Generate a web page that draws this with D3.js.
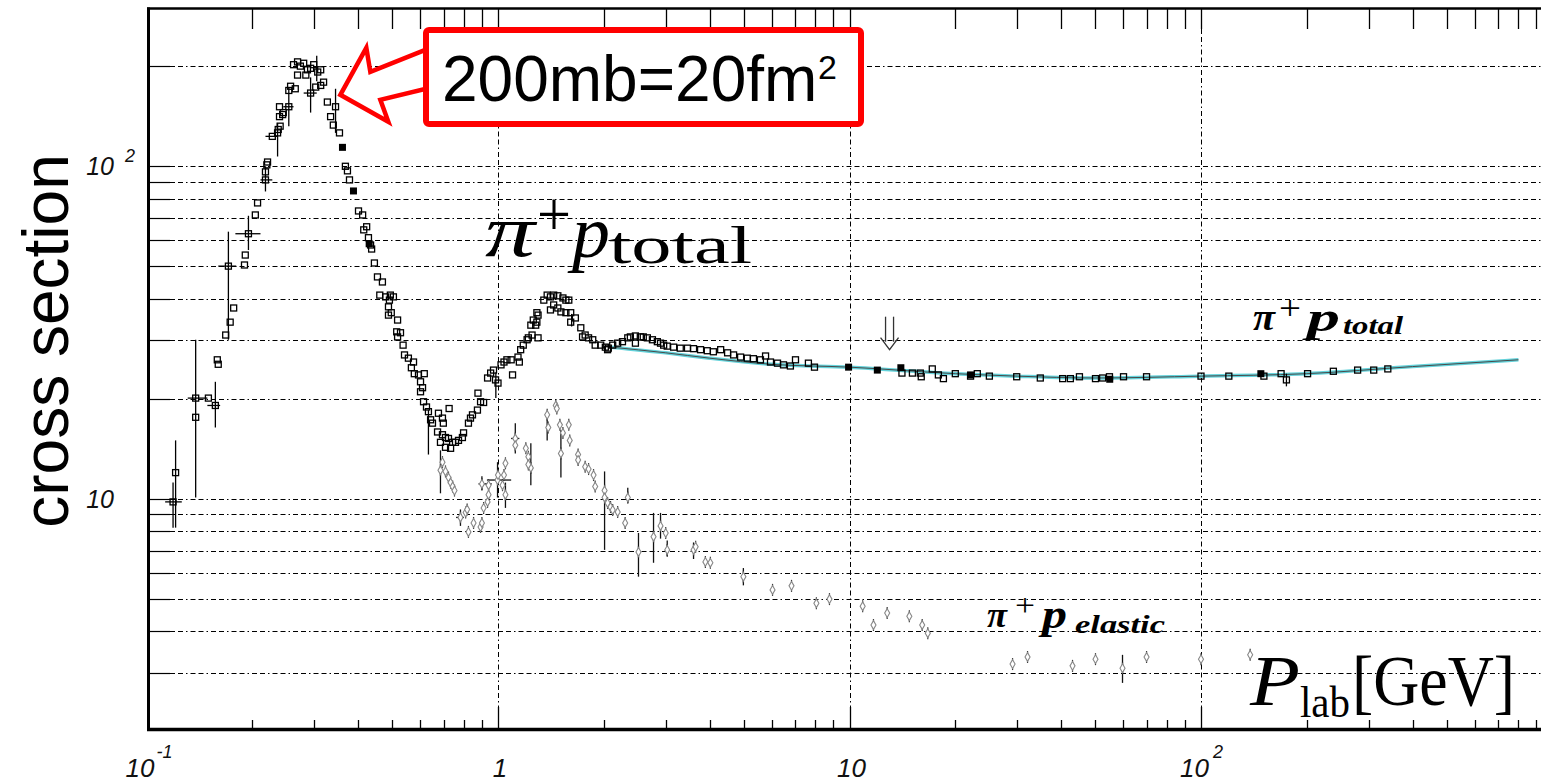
<!DOCTYPE html>
<html lang="en">
<head>
<meta charset="UTF-8">
<title>pi+ p cross section</title>
<script src="https://d3js.org/d3.v7.min.js"></script>
<style>
    body { margin: 0; background: #fff; overflow: hidden; }
    svg { display: block; }
    .tl { font-family: "Liberation Sans", Arial, sans-serif; font-style: italic; fill: #111; }
    .tex { font-family: "Liberation Serif", "DejaVu Serif", serif; fill: #000; }
</style>
</head>
<body>
<svg width="1541" height="782"></svg>
<script>
    // pi+ p total cross section [p (GeV), sigma (mb)]
    const totalPoints = [
        [0.119,9.8],[0.121,12.0],[0.138,20.1],[0.138,17.6],[0.150,20.1],[0.157,19.1],[0.159,26.2],[0.160,25.4],
        [0.168,31.1],[0.171,50.1],[0.173,34.0],[0.177,37.5],[0.190,50.5],[0.191,54.1],[0.195,62.7],[0.204,71.4],
        [0.207,77.6],[0.218,91],[0.218,96.2],[0.220,101],[0.221,103],[0.228,123],[0.236,126],[0.237,129],
        [0.240,132],[0.239,141],[0.244,143],[0.245,145],[0.239,151],[0.254,151],[0.254,169],[0.257,174],
        [0.265,171],[0.262,202],[0.269,206],[0.274,200],[0.280,204],[0.287,195],[0.293,197],[0.299,202],
        [0.307,192],[0.313,195],[0.269,188],[0.284,188],[0.293,166],[0.303,173],[0.313,175],[0.319,179],
        [0.327,156],[0.345,151],[0.334,141],[0.340,133],[0.354,126],[0.368,100],[0.373,96.9],[0.378,91],
        [0.401,73.4],[0.412,71.4],[0.415,64.4],[0.423,65.8],[0.428,61],[0.434,58],[0.437,56.4],[0.445,51.2],
        [0.454,46.5],[0.469,44.9],[0.461,41],[0.479,40.5],[0.494,41],[0.504,40.5],[0.491,39.6],[0.488,37.8],
        [0.488,35.7],[0.497,36.3],[0.518,34.5],[0.515,31.8],[0.528,31.6],[0.518,30.7],[0.537,29],[0.542,27.1],
        [0.556,26.5],[0.575,25.8],[0.567,24.8],[0.578,23.8],[0.594,23.6],[0.617,23.8],[0.602,22.5],[0.61,21.6],
        [0.602,21.0],[0.614,19.6],[0.626,18.9],[0.634,18.3],[0.643,17.3],[0.651,16.9],[0.677,18.1],[0.695,17.5],
        [0.699,16.9],[0.726,18.7],[0.673,15.9],[0.695,15.6],[0.709,15.3],[0.723,15.2],[0.743,14.8],[0.757,14.8],
        [0.772,15.0],[0.792,15.3],[0.686,14.8],[0.709,14.3],[0.733,14.2],[0.798,15.8],[0.824,16.9],[0.835,17.5],
        [0.846,17.9],[0.874,18.5],[0.892,19.6],[0.91,19.5],[0.877,20.8],[0.934,23.1],[0.953,23.9],[0.971,24.4],
        [0.984,22.8],[1.0,22.3],[1.02,25.3],[1.04,25.8],[1.06,26.2],[1.09,26.2],[1.10,23.6],[1.14,26.7],
        [1.15,25.8],[1.16,28.1],[1.18,29],[1.21,30.1],[1.22,30.5],[1.25,31.1],[1.28,33.3],[1.29,34],
        [1.30,35.7],[1.30,30.5],[1.29,36.3],[1.26,34.5],[1.24,33.3],[1.35,39.6],[1.38,41],[1.41,40.5],
        [1.44,41],[1.48,40.8],[1.53,40.2],[1.56,39.6],[1.59,39.6],[1.44,38.3],[1.41,37],[1.48,37.5],
        [1.51,36.5],[1.56,36.3],[1.61,36.3],[1.66,35],[1.61,34],[1.72,32.7],[1.74,30.7],[1.77,31.1],
        [1.81,30.5],[1.86,30.1],[1.89,29],[1.96,29],[2.02,28.6],[2.06,28.4],[2.05,28.1],[2.12,29],
        [2.19,29.4],[2.26,29.7],[2.34,30.5],[2.38,30.7],[2.46,30.9],[2.54,30.7],[2.59,30.7],[2.46,29.4],
        [2.66,30.5],[2.75,30.1],[2.84,29.7],[2.90,29.4],[2.96,29],[3.03,28.8],[3.16,28.6],[3.30,28.4],
        [3.46,28.4],[3.60,28.3],[3.77,28.1],[3.94,27.9],[4.10,27.7],[4.30,28.1],[4.50,27.5],[4.68,27.1],
        [4.90,26.7],[5.12,26.5],[5.33,26.4],[5.58,26.2],[5.77,26.9],[5.96,25.8],[6.24,25.6],[6.49,25.3],
        [6.79,25.1],[7.02,26.2],[7.64,25.6],[7.95,24.9],[14.1,23.9],[15.1,23.9],[15.9,23.9],[16.0,23.3],
        [17.2,24.6],[17.9,23.6],[18.5,23.0],[20.0,23.8],[22.1,23.4],[23.1,23.8],[25,23.4],[29.9,23.3],
        [34.9,23.1],[40.4,23.0],[42.5,23.0],[45.1,23.3],[50.1,23.0],[52.5,23.1],[54.9,23.3],[60.2,23.3],
        [70,23.3],[100,23.4],[120,23.4],[151,23.4],[169,23.8],[175,22.8],[201,23.8],[238,24.2],
        [279,24.4],[310,24.4],[340,24.6]
    ];
    // filled markers of the total set
    const totalSolid = [[0.361,114],[0.388,84.3],[0.43,58.5],[9.94,24.9],[12.0,24.4],[14.0,24.8],[22.1,23.6],[55,22.9],[148,23.8]];
    // [p, sigma, sigmaLow, sigmaHigh, pLow, pHigh]
    const totalErr = [
        [0.119,9.8,8.2,11.2,0.113,0.126],[0.121,12.0,8.2,15.0,null,null],[0.138,20.1,10.1,30.1,0.131,0.149],
        [0.157,19.1,16.4,22.5,0.149,0.162],[0.171,50.1,30.1,63.6,0.160,0.180],[0.195,62.7,56,71,0.179,0.211],
        [0.218,91,84,100,0.211,0.228],[0.228,123,null,null,0.218,0.236],[0.236,126,107,135,null,null],
        [0.254,151,132,173,0.245,0.262],[0.293,166,145,185,0.28,0.305],[0.305,190,180,215,null,null],
        [0.345,151,126,171,null,null],[0.634,16.0,13.6,18.5,null,null],[0.986,22.3,20.1,24.0,null,null],
        [1.62,34.5,33,36,null,null],[175,22.8,21.8,23.8,null,null]
    ];

    // pi+ p elastic cross section
    const elasticPoints = [
        [0.686,12.2],[0.695,12.9],[0.709,12.1],[0.723,11.6],[0.733,11.2],[0.743,10.9],[0.752,10.6],[0.782,8.8],
        [0.809,9.1],[0.817,9.3],[0.824,7.96],[0.852,8.47],[0.892,8.24],[0.90,8.47],[0.90,11.1],[0.94,11.0],
        [0.91,9.4],[0.934,9.8],[0.94,10.3],[0.997,11.4],[1.0,11.8],[1.04,11.8],[1.05,12.8],[1.03,11.0],
        [1.05,10.3],[1.12,15.2],[1.12,14.5],[1.20,14.2],[1.22,13.4],[1.24,12.4],[1.22,12.7],[1.38,17.9],
        [1.39,16.4],[1.46,19.1],[1.47,18.7],[1.50,16.7],[1.53,15.8],[1.51,13.7],[1.59,16.7],[1.60,15.0],
        [1.69,13.6],[1.69,13.1],[1.77,12.5],[1.81,12.3],[1.87,11.8],[1.89,10.9],[2.01,10.6],[2.01,10.1],
        [2.05,9.73],[2.09,9.46],[2.12,9.27],[2.19,9.14],[2.30,8.47],[2.34,10.1],[2.51,6.93],[2.77,7.7],
        [2.90,8.3],[3.0,7.9],[3.03,7.03],[3.60,7.03],[3.65,7.18],[3.89,6.47],[4.02,6.43],[4.99,5.84],
        [6.04,5.33],[6.84,5.48],[8.05,4.86],[8.77,5.0],[10.9,4.76],[11.7,4.18],[12.8,4.54],[14.8,4.44],
        [16.1,4.18],[16.7,3.95],[29.1,3.19],[32.1,3.35],[43.1,3.15],[50.1,3.30],[59.8,3.10],[70,3.35],
        [100,3.30],[138,3.40]
    ];
    const elasticErr = [
        [0.686,12.2,10.4,14.0,null,null],[0.782,8.8,8.3,9.3,0.76,0.80],[0.90,11.1,10.6,11.7,0.88,0.96],
        [0.997,11.4,10.1,12.9,0.93,1.09],[1.05,10.3,9.4,11.2,null,null],[1.12,15.2,13.7,16.9,1.09,1.15],
        [1.24,12.4,11.0,14.7,null,null],[1.38,16.4,15.0,18.1,null,null],[1.51,13.7,11.6,16.1,null,null],
        [2.01,10.1,7.03,12.1,null,null],[2.34,10.1,9.7,10.8,null,null],[2.51,6.93,5.84,7.9,null,null],
        [2.77,7.7,6.43,9.08,null,null],[2.90,8.3,7.6,9.08,null,null],[3.03,7.03,6.7,7.5,null,null],
        [3.60,7.03,6.6,7.4,null,null],[4.99,5.84,5.5,6.2,null,null],[59.8,3.10,2.8,3.40,null,null]
    ];

    // fit curve through the high energy total
    const fitP = [2.1, 3, 4, 6, 10, 20, 30, 50, 100, 200, 400, 800];
    const fitS = [28.6, 27.5, 26.5, 25.4, 24.9, 23.8, 23.4, 23.1, 23.4, 23.8, 25.0, 26.2];

    const xMajor = [1, 10, 100];

    const width = 1541, height = 782;
    const svg = d3.select("svg");

    const x = d3.scaleLog().domain([0.1, 1000]).range([146.5, 1552.5]);
    const y = d3.scaleLog().domain([2.035, 297]).range([729, 9]);
    const px = v => Math.round(x(v)) + 0.5;
    const py = v => Math.round(y(v)) + 0.5;

    const dash = "5,3,5,3,1.5,3";

    // horizontal grid + left ticks
    const yGrid = y.ticks().filter(v => v >= 3 && v <= 200);
    svg.append("g").selectAll("line").data(yGrid).join("line")
        .attr("x1", 170).attr("x2", width)
        .attr("y1", d => py(d)).attr("y2", d => py(d))
        .attr("stroke", "#000").attr("stroke-width", 1).attr("stroke-dasharray", dash);
    svg.append("g").selectAll("line").data(yGrid).join("line")
        .attr("x1", 148).attr("x2", 170)
        .attr("y1", d => py(d)).attr("y2", d => py(d))
        .attr("stroke", "#000").attr("stroke-width", 1.2);

    // vertical grid
    svg.append("g").selectAll("line").data(xMajor).join("line")
        .attr("x1", d => px(d)).attr("x2", d => px(d))
        .attr("y1", 29).attr("y2", 707)
        .attr("stroke", "#000").attr("stroke-width", 1).attr("stroke-dasharray", dash);

    // top ticks
    const xTicks = x.ticks().filter(v => v > 0.1 && v < 1000);
    svg.append("g").selectAll("line").data(xTicks).join("line")
        .attr("x1", d => px(d)).attr("x2", d => px(d))
        .attr("y1", 9).attr("y2", 29)
        .attr("stroke", "#000").attr("stroke-width", 1.3);
    // bottom ticks
    svg.append("g").selectAll("line").data(xTicks).join("line")
        .attr("x1", d => px(d)).attr("x2", d => px(d))
        .attr("y1", 729).attr("y2", d => xMajor.includes(d) ? 707 : 720)
        .attr("stroke", "#000").attr("stroke-width", 1.3);

    // fit curve
    const fitData = fitP.map((p, i) => [p, fitS[i]]);
    const line = d3.line().x(d => x(d[0])).y(d => y(d[1])).curve(d3.curveMonotoneX);
    svg.append("path").datum(fitData).attr("d", line)
        .attr("fill", "none").attr("stroke", "#63d2da").attr("stroke-width", 3.5);
    svg.append("path").datum(fitData).attr("d", line)
        .attr("fill", "none").attr("stroke", "#4a4a4a").attr("stroke-width", 1);

    // error bars
    function errBars(data, color) {
        const g = svg.append("g").attr("stroke", color).attr("stroke-width", 1.3);
        data.forEach(e => {
            if (e[2] != null) {
                g.append("line").attr("x1", x(e[0])).attr("x2", x(e[0]))
                    .attr("y1", y(e[2])).attr("y2", y(e[3]));
            }
            if (e[4] != null) {
                g.append("line").attr("x1", x(e[4])).attr("x2", x(e[5]))
                    .attr("y1", y(e[1])).attr("y2", y(e[1]));
            }
        });
    }
    errBars(totalErr, "#000");
    errBars(elasticErr, "#111");

    // elastic markers
    const diamond = d3.symbol().type(d3.symbolDiamond).size(22);
    const eg = svg.append("g");
    eg.selectAll("line").data(elasticPoints).join("line")
        .attr("x1", d => x(d[0])).attr("x2", d => x(d[0]))
        .attr("y1", d => y(d[1]) - 6).attr("y2", d => y(d[1]) + 6)
        .attr("stroke", "#333").attr("stroke-width", 1.2);
    eg.selectAll("path").data(elasticPoints).join("path")
        .attr("d", diamond)
        .attr("transform", d => `translate(${x(d[0])},${y(d[1])})`)
        .attr("fill", "#fff").attr("stroke", "#888").attr("stroke-width", 1.1);

    // total markers
    svg.append("g").selectAll("rect").data(totalPoints).join("rect")
        .attr("x", d => x(d[0]) - 3).attr("y", d => y(d[1]) - 3)
        .attr("width", 6).attr("height", 6)
        .attr("fill", "none").attr("stroke", "#000").attr("stroke-width", 1.3);
    svg.append("g").selectAll("rect").data(totalSolid).join("rect")
        .attr("x", d => x(d[0]) - 3.5).attr("y", d => y(d[1]) - 3.5)
        .attr("width", 7).attr("height", 7).attr("fill", "#000");

    // frame
    svg.append("line").attr("x1", 148.5).attr("x2", 148.5).attr("y1", 7.5).attr("y2", 731)
        .attr("stroke", "#000").attr("stroke-width", 3);
    svg.append("line").attr("x1", 147).attr("x2", width).attr("y1", 8.5).attr("y2", 8.5)
        .attr("stroke", "#000").attr("stroke-width", 2.5);
    svg.append("line").attr("x1", 147).attr("x2", width).attr("y1", 729.5).attr("y2", 729.5)
        .attr("stroke", "#000").attr("stroke-width", 3.5);

    // tick labels
    const yl = svg.append("g").attr("class", "tl");
    yl.append("text").attr("x", 114).attr("y", y(100) + 9).attr("text-anchor", "end")
        .attr("font-size", 25).text("10");
    yl.append("text").attr("x", 125).attr("y", y(100) - 4).attr("font-size", 18).text("2");
    yl.append("text").attr("x", 114).attr("y", y(10) + 9).attr("text-anchor", "end")
        .attr("font-size", 25).text("10");

    const xl = svg.append("g").attr("class", "tl");
    xl.append("text").attr("x", x(0.1) - 21).attr("y", 777).attr("font-size", 26).text("10");
    xl.append("text").attr("x", x(0.1) + 10).attr("y", 758).attr("font-size", 18).text("-1");
    xl.append("text").attr("x", x(1) + 2).attr("y", 777).attr("text-anchor", "middle").attr("font-size", 26).text("1");
    xl.append("text").attr("x", x(10) + 2).attr("y", 777).attr("text-anchor", "middle").attr("font-size", 26).text("10");
    xl.append("text").attr("x", x(100) + 8).attr("y", 777).attr("text-anchor", "end").attr("font-size", 26).text("10");
    xl.append("text").attr("x", x(100) + 12).attr("y", 758).attr("font-size", 18).text("2");

    // y title
    svg.append("text").attr("transform", "translate(68,341) rotate(-90)")
        .attr("text-anchor", "middle")
        .attr("font-family", "'Liberation Sans', Arial, sans-serif")
        .attr("font-size", 64).attr("fill", "#000").text("cross section");

    // physics labels
    function tex(xp, yp, str, size, opts = {}) {
        const t = svg.append("text").attr("class", "tex")
            .attr("x", xp).attr("y", yp).attr("font-size", size).text(str);
        if (opts.italic) t.attr("font-style", "italic");
        if (opts.bold) t.attr("font-weight", "bold");
        if (opts.len) t.attr("textLength", opts.len).attr("lengthAdjust", "spacingAndGlyphs");
        if (opts.fill) t.attr("fill", opts.fill);
        return t;
    }
    // big pi+ p total
    tex(485, 256, "π", 74, { italic: true, len: 50 });
    tex(537, 236, "+", 64, { len: 34 });
    tex(572, 257, "p", 74, { italic: true, len: 38 });
    tex(609, 263, "total", 52, { len: 143 });

    // small right label
    tex(1253, 330, "π", 38, { italic: true, bold: true, len: 22 });
    tex(1279, 319, "+", 34, { len: 22 });
    tex(1307, 331, "p", 42, { italic: true, bold: true, len: 33 });
    tex(1343, 334, "total", 26, { italic: true, bold: true, len: 60 });

    // elastic label
    tex(987, 627, "π", 36, { italic: true, bold: true, len: 20 });
    tex(1015, 616, "+", 32, { len: 20, fill: "#5a2030" });
    tex(1042, 628, "p", 40, { italic: true, bold: true, len: 25 });
    tex(1075, 633, "elastic", 25, { italic: true, bold: true, len: 90 });

    // P_lab [GeV]
    tex(1250, 705, "P", 72, { italic: true, len: 50 });
    tex(1300, 717, "lab", 44, { len: 50 });
    tex(1352, 705, "[GeV]", 72, { len: 163 });

    // double arrow near 13 GeV
    const ax = x(13.0), ay = y(28.1);
    const ar = svg.append("g").attr("stroke", "#333").attr("stroke-width", 1.3).attr("fill", "none");
    ar.append("line").attr("x1", ax - 4).attr("x2", ax - 4).attr("y1", ay - 33).attr("y2", ay - 8);
    ar.append("line").attr("x1", ax + 4).attr("x2", ax + 4).attr("y1", ay - 33).attr("y2", ay - 8);
    ar.append("path").attr("d", `M${ax - 9},${ay - 12}L${ax},${ay}L${ax + 9},${ay - 12}`);

    // annotation: hollow red arrow and box
    const tx = x(0.356), ty = y(164);
    const arrowPts = [[0, 0], [26, -47], [30, -23], [90, -47], [90, -7], [40, 5], [48, 27]];
    svg.append("polygon")
        .attr("points", arrowPts.map(p => [tx + p[0], ty + p[1]].join(",")).join(" "))
        .attr("fill", "#fff").attr("stroke", "#ff0000").attr("stroke-width", 4.5)
        .attr("stroke-linejoin", "miter");
    svg.append("rect").attr("x", 426).attr("y", 30).attr("width", 435).attr("height", 94)
        .attr("rx", 3).attr("fill", "#fff").attr("stroke", "#ff0000").attr("stroke-width", 6);
    svg.append("text").attr("x", 442).attr("y", 101)
        .attr("font-family", "'Liberation Sans', Arial, sans-serif").attr("font-size", 64)
        .attr("fill", "#000").text("200mb=20fm");
    svg.append("text").attr("x", 818).attr("y", 79)
        .attr("font-family", "'Liberation Sans', Arial, sans-serif").attr("font-size", 34)
        .attr("fill", "#000").text("2");
</script>
</body>
</html>
